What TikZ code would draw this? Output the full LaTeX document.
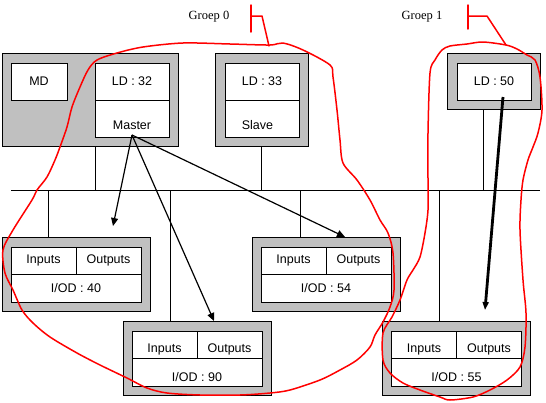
\documentclass[tikz,border=0pt]{standalone}
\usepackage{fontspec}
\setmainfont{Liberation Sans}
\newfontfamily\groepfont{Liberation Serif}
\usetikzlibrary{positioning,calc,arrows.meta}
\definecolor{panelgray}{HTML}{C0C0C0}

\begin{document}
\begin{tikzpicture}[x=1pt, y=-1pt,
  every node/.style={inner sep=0pt, outer sep=0pt, font=\fontsize{12.5}{15}\selectfont},
  panel/.style={draw, fill=panelgray, line width=1pt},
  cell/.style={draw, fill=white, line width=1pt, minimum width=74pt, minimum height=37pt},
  lowcell/.style={cell, text height=22pt, text depth=0pt},
  iopanel/.style={panel, minimum width=148pt, minimum height=74pt},
  iocell/.style={draw, fill=white, line width=1pt, minimum width=65pt, minimum height=27pt},
  iodcell/.style={draw, fill=white, line width=1pt, minimum width=130pt, minimum height=28pt},
  lowio/.style={text height=16pt, text depth=0pt},
  lowiod/.style={text height=18pt, text depth=0pt},
  bus/.style={line width=1pt},
  link/.style={line width=1.2pt, -{Triangle[length=8pt, width=7pt]}},
  boldlink/.style={line width=2.8pt, -{Triangle[length=8pt, width=6pt]}},
  groep/.style={draw=red, line width=1.5pt, line join=round, line cap=round},
  groeplabel/.style={font=\groepfont\fontsize{12.5}{15}\selectfont}]
  \useasboundingbox (0,0) rectangle (546,402);
  \node[panel, minimum width=176pt, minimum height=93pt] (u0) at (90,99.5) {};
  \node[cell, minimum width=56pt] (md) at (39,81.5) {MD};
  \node[cell] (ld32) at (132,81.5) {LD : 32};
  \node[lowcell, below=0pt of ld32] (master) {Master};
  \node[panel, minimum width=93pt, minimum height=93pt] (u33) at (261.5,99.5) {};
  \node[cell] (ld33) at (262,81.5) {LD : 33};
  \node[lowcell, below=0pt of ld33] (slave) {Slave\hspace*{9pt}};
  \node[panel, minimum width=93pt, minimum height=56pt] (u50) at (493.5,81) {};
  \node[cell] (ld50) at (494,81.5) {LD : 50};

  \node[iopanel] (io40) at (76,274) {};
  \node[iocell] (in40) at ($(io40)+(-32.5,-13.5)$) {Inputs};
  \node[iocell, right=0pt of in40] (out40) {Outputs};
  \node[iodcell, below=0pt of in40.south east] (iod40) {I/OD : 40};
  \node[iopanel] (io90) at (197,358) {};
  \node[iocell, lowio] (in90) at ($(io90)+(-32.5,-13.5)$) {Inputs};
  \node[iocell, lowio, right=0pt of in90] (out90) {Outputs};
  \node[iodcell, lowiod, below=0pt of in90.south east] (iod90) {I/OD : 90};
  \node[iopanel] (io54) at (326,274) {};
  \node[iocell] (in54) at ($(io54)+(-32.5,-13.5)$) {Inputs};
  \node[iocell, right=0pt of in54] (out54) {Outputs};
  \node[iodcell, below=0pt of in54.south east] (iod54) {I/OD : 54};
  \node[iopanel] (io55) at (456.5,358) {};
  \node[iocell, lowio] (in55) at ($(io55)+(-32.5,-13.5)$) {Inputs};
  \node[iocell, lowio, right=0pt of in55] (out55) {Outputs};
  \node[iodcell, lowiod, below=0pt of in55.south east] (iod55) {I/OD : 55};

  \coordinate (busL) at (11,190);
  \coordinate (busR) at (540,190);
  \draw[bus] (busL) -- (busR);
  \coordinate (d0) at (ld32.west |- u0.south);
  \coordinate (d50) at ([xshift=-10pt]u50.south);
  \coordinate (d40) at ([xshift=-28pt]io40.north);
  \coordinate (d90) at ([xshift=-27pt]io90.north);
  \coordinate (d54) at ([xshift=-26pt]io54.north);
  \coordinate (d55) at ([xshift=-17.5pt]io55.north);
  \draw[bus] (d0) -- (d0 |- busL);
  \draw[bus] (u33.south) -- (u33.south |- busL);
  \draw[bus] (d50) -- (d50 |- busL);
  \draw[bus] (d40) -- (d40 |- busL);
  \draw[bus] (d90) -- (d90 |- busL);
  \draw[bus] (d54) -- (d54 |- busL);
  \draw[bus] (d55) -- (d55 |- busL);

  \coordinate (m) at ([yshift=2pt]master.south);
  \coordinate (t40) at (113,226);
  \coordinate (s50) at ([xshift=9pt, yshift=3pt]ld50.south);
  \coordinate (t55) at (485,310);
  \draw[link] (m) -- (t40);
  \draw[link] (m) -- ([xshift=17pt]io90.north);
  \draw[link] (m) -- ([xshift=19pt]io54.north);
  \draw[boldlink] (s50) -- (t55);

  \node[groeplabel] (g0) at (209,17) {Groep 0};
  \node[groeplabel] (g1) at (422,17) {Groep 1};
  \draw[groep] (251,5) -- (251,32);
  \draw[groep] (251,16) -- (262,16) -- (269,46);
  \draw[groep] (468,5) -- (468,29);
  \draw[groep] (468,16) -- (487,16) -- (506,45);
  \draw[groep] plot[smooth cycle, tension=0.5] coordinates {
    (270,45) (230,44) (183,43) (143,47) (117,53) (97,60) (88,70) (80,87)
    (72,107) (67,127) (60,147) (55,160) (47,177) (37,190) (32,200) (13,230)
    (3,250) (5,273) (13,290) (22,310) (33,323) (50,337) (77,353) (100,365)
    (127,378) (147,388) (167,393) (200,395) (240,395) (270,393) (290,390)
    (320,380) (340,370) (357,360) (370,347) (375,335) (383,322) (390,307)
    (394,290) (393,253) (388,233) (380,220) (370,200) (357,180) (343,163)
    (340,140) (337,110) (333,77) (330,65) (303,50) (283,43)};
  \draw[groep] plot[smooth cycle, tension=0.5] coordinates {
    (506,45) (483,42) (467,44) (450,46) (442,50) (435,60) (430,73) (428,133)
    (428,180) (428,210) (425,233) (420,257) (413,270) (407,280) (400,300)
    (392,317) (383,333) (383,360) (390,373) (403,383) (420,390) (440,397)
    (450,400) (473,397) (490,390) (507,380) (520,367) (525,347) (526,313)
    (523,280) (520,230) (521,200) (523,180) (528,160) (533,147) (538,133)
    (542,110) (540,77) (535,60) (527,55) (517,49)};
\end{tikzpicture}
\end{document}
